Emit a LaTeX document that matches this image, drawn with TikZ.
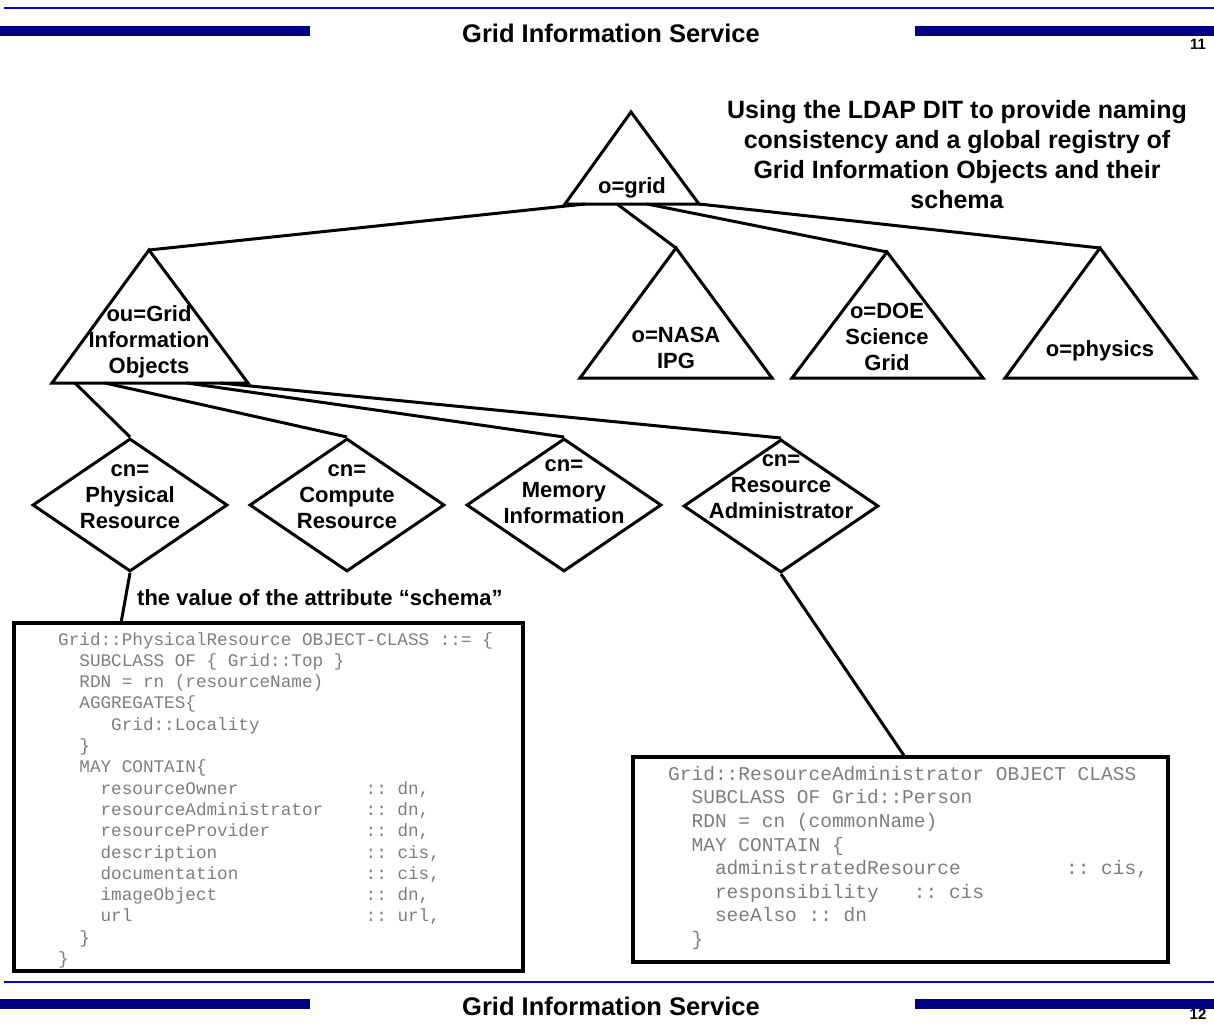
\documentclass[tikz,border=0pt]{standalone}
\usepackage{fontspec}
\setmainfont{Liberation Sans}
\setmonofont{Liberation Mono}
\usetikzlibrary{shapes.geometric}
\definecolor{slideblue}{RGB}{0,0,230}
\definecolor{slidenavy}{RGB}{0,0,128}
\definecolor{codegray}{RGB}{125,125,125}
\tikzset{
  tri/.style = {draw, line width=3pt, line join=miter},
  dia/.style = {diamond, draw, line width=3pt, minimum width=195pt, minimum height=133pt, inner sep=0pt},
  link/.style = {line width=3pt},
  lbl/.style = {font=\fontsize{22}{26}\selectfont\bfseries, align=center, inner sep=0pt},
  codebox/.style = {draw, line width=4pt, inner sep=0pt},
  code/.style = {text=codegray, align=left, inner sep=0pt, anchor=north west},
  bar/.style = {fill=slidenavy},
  slidetitle/.style = {font=\fontsize{25.5}{28}\selectfont\bfseries, inner sep=0pt},
  pagenum/.style = {font=\fontsize{15}{18}\selectfont\bfseries, inner sep=0pt}
}
\begin{document}
\begin{tikzpicture}[x=1pt, y=-1pt]
  \useasboundingbox (0,0) rectangle (1214,1023);
  % header of slide 11
  \draw [slideblue, line width=2pt] (4,8) -- (1214,8);
  \fill [bar] (0,26) rectangle (310,36);
  \fill [bar] (915,26) rectangle (1214,36);
  \node [slidetitle] (head) at (611,33) {Grid Information Service};
  \node [pagenum] (num11) at (1198,44) {11};
  % the tree
  \draw [tri] (631,112) coordinate (gridTop) -- (699,204) coordinate (gridR) -- (565,204) coordinate (gridL) -- cycle;
  \node [lbl] (gridT) at (632,188) {o=grid};
  \node [lbl, font=\fontsize{25}{30}\selectfont\bfseries] (intro) at (957,155)
    {Using the LDAP DIT to provide naming\\consistency and a global registry of\\Grid Information Objects and their\\schema};
  \draw [tri] (149,250) coordinate (ouTop) -- (248,383) coordinate (ouR) -- (52,383) coordinate (ouL) -- cycle;
  \node [lbl] (ouT) at (149,342) {ou=Grid\\Information\\Objects};
  \draw [tri] (676,248) coordinate (nasaTop) -- (772,378) -- (580,378) -- cycle;
  \node [lbl] (nasaT) at (676,348) {o=NASA\\IPG};
  \draw [tri] (887,252) coordinate (doeTop) -- (983,378) -- (792,378) -- cycle;
  \node [lbl] (doeT) at (887,337) {o=DOE\\Science\\Grid};
  \draw [tri] (1100,248) coordinate (physicsTop) -- (1196,378) -- (1005,378) -- cycle;
  \node [lbl] (physicsT) at (1100,351) {o=physics};
  \coordinate (gridOut1) at (585,204);
  \coordinate (gridOut2) at (617,204);
  \coordinate (gridOut3) at (647,204);
  \draw [link] (gridOut1) -- (ouTop);
  \draw [link] (gridOut2) -- (nasaTop);
  \draw [link] (gridOut3) -- (doeTop);
  \draw [link] (gridR) -- (physicsTop);
  % cn entries
  \node [dia] (phys) at (130,505) {};
  \node [lbl] (physT) at ([yshift=8pt]phys.center) {cn=\\Physical\\Resource};
  \node [dia] (comp) at (347,505) {};
  \node [lbl] (compT) at ([yshift=8pt]comp.center) {cn=\\Compute\\Resource};
  \node [dia] (mem) at (564,505) {};
  \node [lbl] (memT) at ([yshift=13pt]mem.center) {cn=\\Memory\\Information};
  \node [dia] (ra) at (781,506) {};
  \node [lbl] (raT) at ([yshift=19pt]ra.center) {cn=\\Resource\\Administrator};
  \coordinate (ouOut1) at (75,383);
  \coordinate (ouOut2) at (105,383);
  \coordinate (ouOut3) at (187,383);
  \coordinate (ouOut4) at (220,383);
  \foreach \from/\to in {ouOut1/phys, ouOut2/comp, ouOut3/mem, ouOut4/ra}
    \draw [link] (\from) -- (\to.north);
  % schema boxes
  \node [lbl, anchor=west] (schemaLbl) at (137,598) {the value of the attribute “schema”};
  \node [codebox, minimum width=509pt, minimum height=348pt] (physBox) at (268.5,797) {};
  \node [codebox, minimum width=535pt, minimum height=205pt] (raBox) at (900.5,859.5) {};
  \coordinate (physIn) at (121,623);
  \coordinate (raIn) at (905,757);
  \draw [link] (phys.south) -- (physIn);
  \draw [link] (ra.south) -- (raIn);
  \node [code, font=\fontsize{17.67}{21.3}\selectfont\ttfamily] (physCode) at (58,632)
    {Grid::PhysicalResource OBJECT-CLASS ::= \{\\
     ~~SUBCLASS OF \{ Grid::Top \}\\
     ~~RDN = rn (resourceName)\\
     ~~AGGREGATES\{\\
     ~~~~~Grid::Locality\\
     ~~\}\\
     ~~MAY CONTAIN\{\\
     ~~~~resourceOwner~~~~~~~~~~~~:: dn,\\
     ~~~~resourceAdministrator~~~~:: dn,\\
     ~~~~resourceProvider~~~~~~~~~:: dn,\\
     ~~~~description~~~~~~~~~~~~~~:: cis,\\
     ~~~~documentation~~~~~~~~~~~~:: cis,\\
     ~~~~imageObject~~~~~~~~~~~~~~:: dn,\\
     ~~~~url~~~~~~~~~~~~~~~~~~~~~~:: url,\\
     ~~\}\\
     \}};
  \node [code, font=\fontsize{19.5}{23.6}\selectfont\ttfamily] (raCode) at (668,766)
    {Grid::ResourceAdministrator OBJECT CLASS\\
     ~~SUBCLASS OF Grid::Person\\
     ~~RDN = cn (commonName)\\
     ~~MAY CONTAIN \{\\
     ~~~~administratedResource~~~~~~~~~:: cis,\\
     ~~~~responsibility~~~:: cis\\
     ~~~~seeAlso :: dn\\
     ~~\}};
  % header of slide 12
  \draw [slideblue, line width=2pt] (4,982) -- (1214,982);
  \fill [bar] (0,999) rectangle (310,1009);
  \fill [bar] (915,999) rectangle (1214,1009);
  \node [slidetitle] (foot) at (611,1006) {Grid Information Service};
  \node [pagenum] (num12) at (1198,1014) {12};
\end{tikzpicture}
\end{document}
